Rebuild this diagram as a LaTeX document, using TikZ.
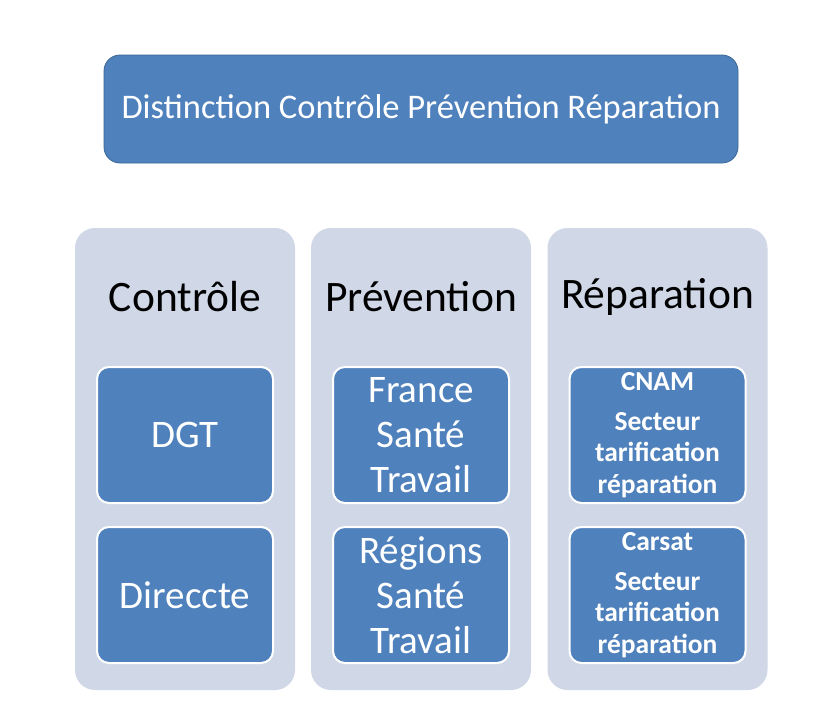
\documentclass[tikz,border=0pt]{standalone}
\usepackage{fontspec}
\setmainfont{Carlito}
\usetikzlibrary{positioning}

\definecolor{boxblue}{HTML}{4F81BD}
\definecolor{boxedge}{HTML}{3A6696}
\definecolor{colgrey}{HTML}{D0D8E8}

\tikzset{
  titlebox/.style={draw=boxedge, thick, fill=boxblue, rounded corners=16pt,
    minimum width=634pt, minimum height=108pt, text=white,
    font=\fontsize{34.5}{38}\selectfont},
  colbox/.style={fill=colgrey, rounded corners=20pt,
    minimum width=220pt, minimum height=462pt},
  colhead/.style={font=\fontsize{43.5}{48}\selectfont},
  itembox/.style={draw=white, line width=2pt, fill=boxblue, rounded corners=12pt,
    minimum width=176pt, minimum height=136pt, text=white, align=center,
    font=\fontsize{39}{45}\selectfont},
  smallbox/.style={itembox, font=\bfseries\fontsize{27.5}{31.5}\selectfont}
}

\begin{document}
\begin{tikzpicture}[x=1pt, y=-1pt]
  \useasboundingbox[fill=white] (0,0) rectangle (817,704);

  % title
  \node[titlebox] (title) at (421,109) {Distinction Contrôle Prévention Réparation};

  % three columns
  \node[colbox] (ctrl) at (185,459) {};
  \node[colbox] (prev) at (421,459) {};
  \node[colbox] (repa) at (657.5,459) {};

  \node[colhead] (ctrlhead) at (185,297) {Contrôle};
  \node[colhead] (prevhead) at (421,297) {Prévention};
  \node[colhead] (repahead) at (657.5,297) {Réparation};

  % controle
  \node[itembox] (dgt) at (185,435) {DGT};
  \node[itembox] (direccte) at (185,595) {Direccte};

  % prevention
  \node[itembox] (france) at (421,435) {France\\Santé\\Travail};
  \node[itembox] (regions) at (421,595) {Régions\\Santé\\Travail};

  % reparation
  \node[smallbox] (cnam) at (657.5,435) {CNAM\\[8pt]Secteur\\tarification\\réparation};
  \node[smallbox] (carsat) at (657.5,595) {Carsat\\[8pt]Secteur\\tarification\\réparation};
\end{tikzpicture}
\end{document}
